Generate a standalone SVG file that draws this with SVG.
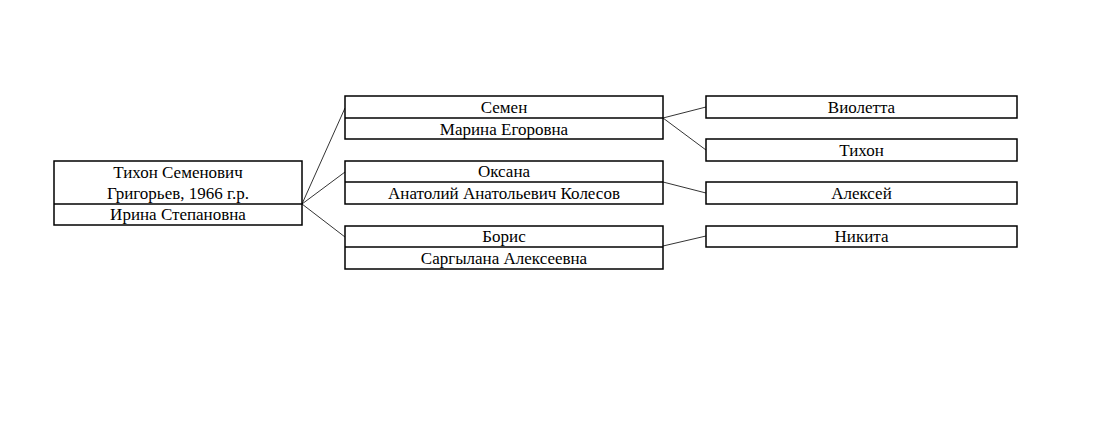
<svg xmlns="http://www.w3.org/2000/svg" width="1110" height="425" viewBox="0 0 1110 425">
<style>
.box{fill:#fff;stroke:#000;stroke-width:1.5}
.div{stroke:#000;stroke-width:1.5}
.t{font-family:"Liberation Serif","Times New Roman",serif;font-size:17px;fill:#000;text-anchor:middle}
.c{stroke:#000;stroke-width:0.8;fill:none}
</style>
<rect width="1110" height="425" fill="#fff"/>
<g id="connectors">
<line class="c" x1="302" y1="204" x2="345" y2="108"/>
<line class="c" x1="302" y1="204" x2="345" y2="172"/>
<line class="c" x1="302" y1="204" x2="345" y2="237"/>
<line class="c" x1="663" y1="118" x2="706" y2="107"/>
<line class="c" x1="663" y1="118" x2="706" y2="150"/>
<line class="c" x1="663" y1="182" x2="706" y2="193"/>
<line class="c" x1="663" y1="246" x2="706" y2="236"/>
</g>
<g id="root">
<rect class="box" x="54" y="161" width="248" height="64"/>
<line class="div" x1="54" y1="204" x2="302" y2="204"/>
<text class="t" x="178" y="178">Тихон Семенович</text>
<text class="t" x="178" y="199">Григорьев, 1966 г.р.</text>
<text class="t" x="178" y="220">Ирина Степановна</text>
</g>
<g id="semen">
<rect class="box" x="345" y="96" width="318" height="43"/>
<line class="div" x1="345" y1="118" x2="663" y2="118"/>
<text class="t" x="504" y="113">Семен</text>
<text class="t" x="504" y="135">Марина Егоровна</text>
</g>
<g id="oksana">
<rect class="box" x="345" y="161" width="318" height="43"/>
<line class="div" x1="345" y1="182" x2="663" y2="182"/>
<text class="t" x="504" y="177">Оксана</text>
<text class="t" x="504" y="199">Анатолий Анатольевич Колесов</text>
</g>
<g id="boris">
<rect class="box" x="345" y="226" width="318" height="43"/>
<line class="div" x1="345" y1="247" x2="663" y2="247"/>
<text class="t" x="504" y="242">Борис</text>
<text class="t" x="504" y="264">Саргылана Алексеевна</text>
</g>
<g id="violetta">
<rect class="box" x="706" y="96" width="311" height="22"/>
<text class="t" x="861.5" y="113">Виолетта</text>
</g>
<g id="tikhon">
<rect class="box" x="706" y="139" width="311" height="22"/>
<text class="t" x="861.5" y="156">Тихон</text>
</g>
<g id="aleksei">
<rect class="box" x="706" y="182" width="311" height="22"/>
<text class="t" x="861.5" y="199">Алексей</text>
</g>
<g id="nikita">
<rect class="box" x="706" y="226" width="311" height="21"/>
<text class="t" x="861.5" y="242">Никита</text>
</g>
</svg>
